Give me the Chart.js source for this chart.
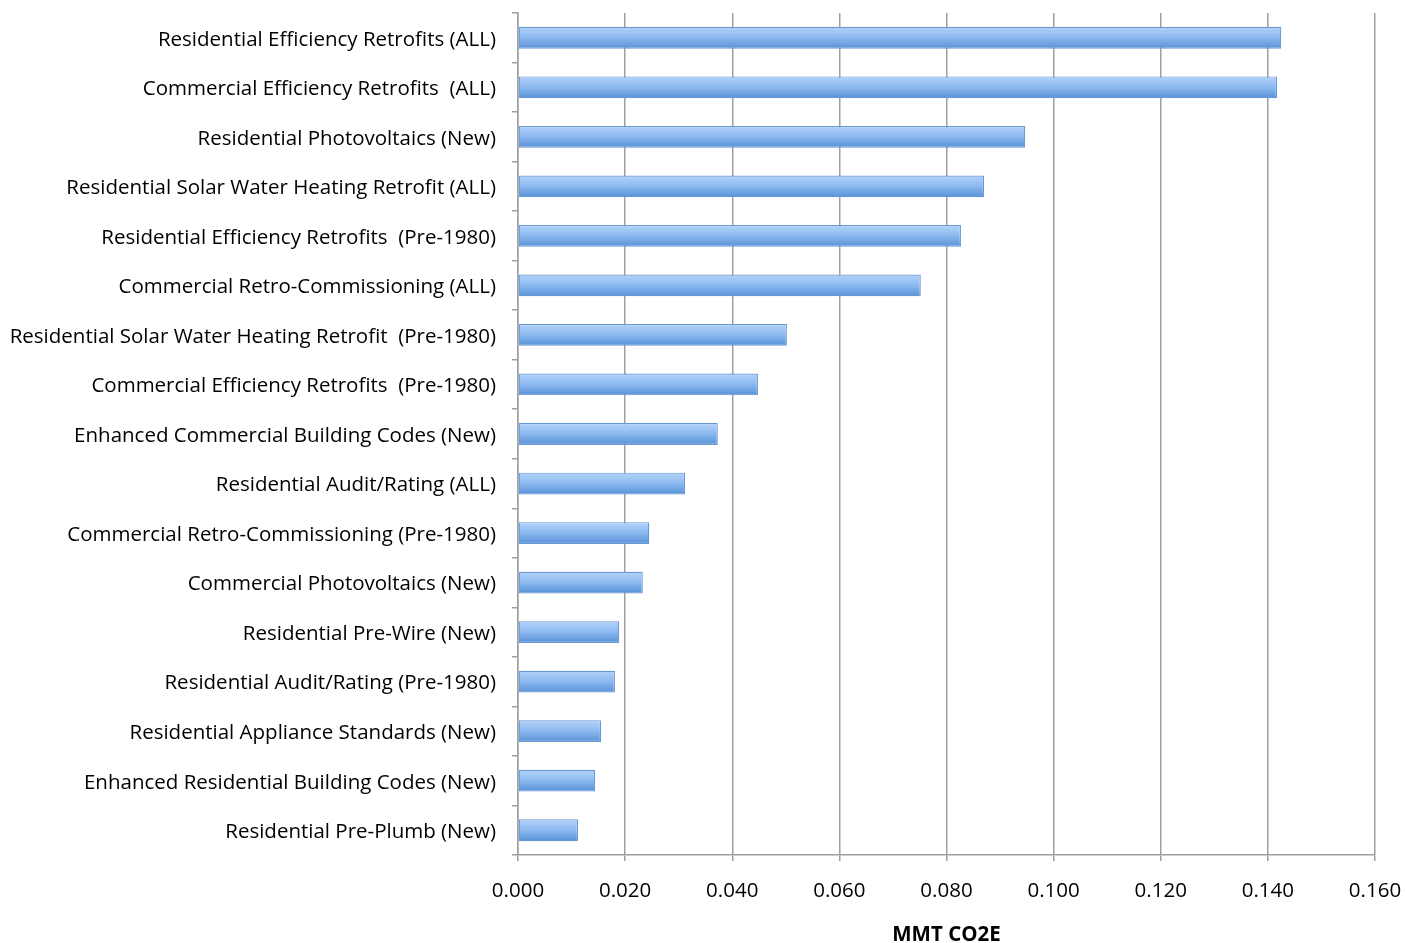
<!DOCTYPE html>
<html>
<head>
<meta charset="utf-8">
<script src="https://cdn.jsdelivr.net/npm/chart.js@4/dist/chart.umd.min.js"></script>
<style>
  html, body { margin: 0; padding: 0; background: #fff; }
  #wrap { width: 1405px; height: 943px; }
</style>
</head>
<body>
<div id="wrap"><canvas id="chart" width="1405" height="943"></canvas></div>
<script>
const measures = [
  'Residential Efficiency Retrofits (ALL)',
  'Commercial Efficiency Retrofits  (ALL)',
  'Residential Photovoltaics (New)',
  'Residential Solar Water Heating Retrofit (ALL)',
  'Residential Efficiency Retrofits  (Pre-1980)',
  'Commercial Retro-Commissioning (ALL)',
  'Residential Solar Water Heating Retrofit  (Pre-1980)',
  'Commercial Efficiency Retrofits  (Pre-1980)',
  'Enhanced Commercial Building Codes (New)',
  'Residential Audit/Rating (ALL)',
  'Commercial Retro-Commissioning (Pre-1980)',
  'Commercial Photovoltaics (New)',
  'Residential Pre-Wire (New)',
  'Residential Audit/Rating (Pre-1980)',
  'Residential Appliance Standards (New)',
  'Enhanced Residential Building Codes (New)',
  'Residential Pre-Plumb (New)'
];

const reductions = [
  0.1425, 0.1417, 0.0947, 0.0870, 0.0827, 0.0752, 0.0502, 0.0448, 0.0373,
  0.0312, 0.0245, 0.0233, 0.0189, 0.0181, 0.0155, 0.0144, 0.0112
];

const xTicks = [0, 0.02, 0.04, 0.06, 0.08, 0.10, 0.12, 0.14, 0.16];

const FONT = '"Open Sans", "DejaVu Sans", sans-serif';
const GRID = '#9f9f9f';

// every bar gets its own vertical gradient, light on top and darker below.
// options objects can be shared between bars, so each one gets a copy.
const barGradient = {
  id: 'barGradient',
  beforeDatasetsDraw(chart) {
    const ctx = chart.ctx;
    chart.getDatasetMeta(0).data.forEach(bar => {
      const top = bar.y - bar.height / 2;
      const g = ctx.createLinearGradient(0, top, 0, top + bar.height);
      g.addColorStop(0, '#b4d3fa');
      g.addColorStop(0.45, '#90bcf1');
      g.addColorStop(1, '#5891d7');
      bar.options = Object.assign({}, bar.options, { backgroundColor: g });
    });
  }
};

const chart = new Chart(document.getElementById('chart'), {
  type: 'bar',
  plugins: [barGradient],
  data: {
    labels: measures,
    datasets: [{
      data: reductions,
      backgroundColor: '#8cb9f0',
      borderColor: '#6798d4',
      borderWidth: 1.2,
      borderSkipped: false,
      barPercentage: 0.44,
      categoryPercentage: 1.0
    }]
  },
  options: {
    indexAxis: 'y',
    responsive: false,
    animation: false,
    layout: { padding: { top: 13, right: 30, left: 0, bottom: 0 } },
    plugins: {
      legend: { display: false },
      tooltip: { enabled: false }
    },
    scales: {
      x: {
        min: 0,
        max: 0.16,
        afterBuildTicks: scale => {
          scale.ticks = xTicks.map(v => ({ value: v }));
        },
        afterFit: scale => {
          scale.height = 88;
          scale.paddingLeft = 0;
          scale.paddingRight = 0;
        },
        ticks: {
          color: '#000',
          font: { family: FONT, size: 20.5 },
          padding: 18,
          callback: v => Number(v).toFixed(3)
        },
        grid: {
          color: GRID,
          lineWidth: 1.5,
          tickLength: 6,
          tickColor: GRID
        },
        border: { color: GRID, width: 1.5 },
        title: {
          display: true,
          text: 'MMT CO2E',
          color: '#000',
          font: { family: FONT, size: 20.5, weight: 'bold', lineHeight: 0.8 },
          padding: { top: 0, bottom: 0 }
        }
      },
      y: {
        offset: true,
        afterFit: scale => {
          scale.width = 518;
          scale.paddingTop = 0;
          scale.paddingBottom = 0;
        },
        ticks: {
          color: '#000',
          font: { family: FONT, size: 20.5 },
          padding: 16,
          labelOffset: 2,
          autoSkip: false
        },
        grid: {
          offset: true,
          drawOnChartArea: false,
          tickLength: 6,
          color: GRID,
          lineWidth: 1.5
        },
        border: { color: GRID, width: 1.5 }
      }
    }
  }
});
</script>
</body>
</html>
